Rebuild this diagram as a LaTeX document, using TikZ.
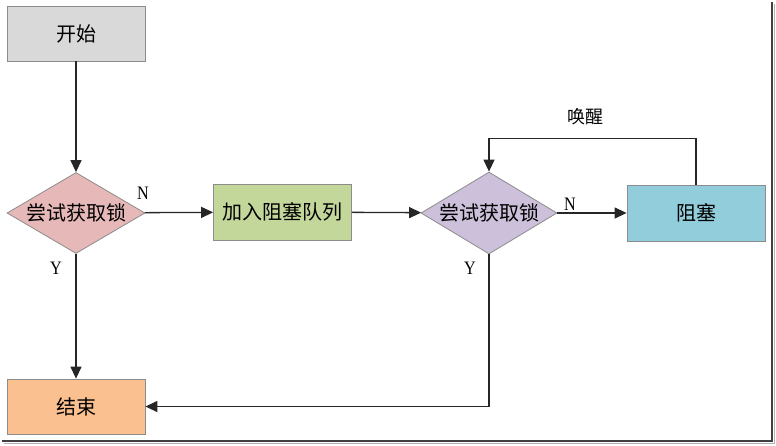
\documentclass[tikz,border=0pt]{standalone}
\usepackage{fontspec}
\setmainfont{Liberation Serif}
\newfontfamily\cjk{Noto Sans CJK SC}
\usetikzlibrary{shapes.geometric,arrows.meta}
\definecolor{startgray}{HTML}{D9D9D9}
\definecolor{trypink}{HTML}{E6B8B7}
\definecolor{queuegreen}{HTML}{C4D79B}
\definecolor{trypurple}{HTML}{CCC0DA}
\definecolor{blockblue}{HTML}{92CDDC}
\definecolor{endorange}{HTML}{FAC090}
\definecolor{edgegray}{HTML}{8C8C8C}

\begin{document}
\begin{tikzpicture}[x=1pt, y=-1pt,
  box/.style={draw=edgegray, line width=0.8pt, minimum width=138pt, minimum height=55pt,
    inner sep=0pt, font=\cjk\fontsize{20}{20}\selectfont},
  choice/.style={diamond, draw=edgegray, line width=0.8pt, aspect=1.7, minimum width=138pt,
    minimum height=81pt, inner sep=0pt, font=\cjk\fontsize{20}{20}\selectfont},
  yn/.style={font=\fontsize{19}{19}\selectfont, xscale=0.85},
  flow/.style={line width=1.3pt, draw=black!85, -{Triangle[length=12pt,width=11pt]}}]
\useasboundingbox (0,0) rectangle (776,445);

% screenshot shadow
\draw[black!75, line width=1.8pt] (772,2) -- (772,441) -- (2,441);
\draw[black!30, line width=1.4pt] (774.5,4) -- (774.5,443.5) -- (4,443.5);

\node[box, fill=startgray] (start) at (76,33.5) {开始};
\node[choice, fill=trypink] (try1) at (76,213) {尝试获取锁};
\node[box, fill=queuegreen, minimum height=56pt] (queue) at (282.5,212) {加入阻塞队列};
\node[choice, fill=trypurple, minimum width=136pt, minimum height=82pt] (try2) at (489,213) {尝试获取锁};
\node[box, fill=blockblue, minimum height=56pt] (block) at (696,213) {阻塞};
\node[box, fill=endorange] (finish) at (76,406.5) {结束};

\draw[flow] (start) -- (try1);
\draw[flow] (try1) -- (queue);
\node[yn] (n1) at (143,193) {N};
\draw[flow] (queue) -- (try2);
\draw[flow] (try2) -- (block);
\node[yn] (n2) at (570,204) {N};
\draw[flow] (block.north) -- ++(0,-46) -| (try2.north);
\node[font=\cjk\fontsize{18}{18}\selectfont] (wake) at (585,117) {唤醒};
\draw[flow] (try1) -- (finish);
\node[yn] (y1) at (56,268) {Y};
\draw[flow] (try2.south) |- (finish.east);
\node[yn] (y2) at (470,268) {Y};
\end{tikzpicture}
\end{document}
